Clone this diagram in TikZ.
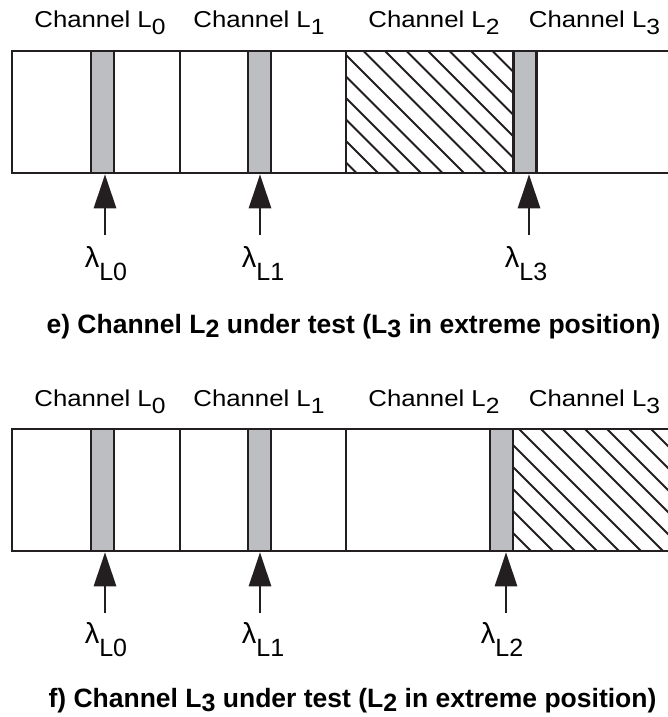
\documentclass[tikz,border=0pt]{standalone}
\usepackage{fontspec}
\setmainfont{Liberation Sans}
\newfontfamily\chanfont[FakeStretch=1.12]{Liberation Sans}
\usetikzlibrary{arrows.meta}

\definecolor{inkline}{RGB}{35,31,32}
\definecolor{barfill}{RGB}{188,190,193}

\newcommand{\chlabel}[1]{{\chanfont\fontsize{23}{26}\selectfont Channel L\raisebox{-7pt}{\fontsize{22}{22}\selectfont #1}}}
\newcommand{\lamlabel}[1]{{\fontsize{29}{30}\selectfont λ\raisebox{-13pt}{\fontsize{25}{25}\selectfont L#1}}}
\newcommand{\capsub}[1]{\raisebox{-4.5pt}{\fontsize{25}{25}\selectfont #1}}

\begin{document}
\begin{tikzpicture}[x=1pt, y=-1pt,
  frame/.style={draw=inkline, line width=2.6pt},
  bar/.style={draw=inkline, fill=barfill, line width=2.6pt, minimum width=23pt,
              minimum height=122pt, inner sep=0pt},
  hatch/.style={draw=inkline, line width=1.8pt},
  arrow/.style={-{Triangle[length=34pt, width=22pt]}, draw=inkline, line width=2.8pt},
  chan/.style={anchor=base, inner sep=0pt},
  lam/.style={anchor=base, inner sep=0pt},
  caption/.style={anchor=base, inner sep=0pt, font=\bfseries\fontsize{26.5}{30}\selectfont}
]
  \useasboundingbox (0,0) rectangle (668,717);

  % e) L2 under test
  \node[chan] (ec0) at (100,28) {\chlabel{0}};
  \node[chan] (ec1) at (259,28) {\chlabel{1}};
  \node[chan] (ec2) at (434,28) {\chlabel{2}};
  \node[chan] (ec3) at (594.5,28) {\chlabel{3}};

  \begin{scope}
    \clip (346,51) rectangle (513,173);
    \foreach \hx in {234.5,256,...,513} \draw[hatch] (\hx,51) -- ++(140,140);
  \end{scope}
  \draw[frame] (672,51) -- (12,51) -- (12,173) -- (672,173);
  \draw[frame] (180,51) -- (180,173);
  \draw[frame] (346,51) -- (346,173);
  \draw[frame] (513,51) -- (513,173);

  \node[bar] (eb0) at (102.5,112) {};
  \node[bar] (eb1) at (259.5,112) {};
  \node[bar] (eb3) at (525,112) {};

  \coordinate (et0) at (105,235);
  \coordinate (et1) at (260,235);
  \coordinate (et3) at (529,235);
  \draw[arrow] (et0) -- (et0 |- eb0.south);
  \draw[arrow] (et1) -- (et1 |- eb1.south);
  \draw[arrow] (et3) -- (et3 |- eb3.south);

  \node[lam] (el0) at (106,267) {\lamlabel{0}};
  \node[lam] (el1) at (263,267) {\lamlabel{1}};
  \node[lam] (el3) at (526,267) {\lamlabel{3}};

  \node[caption] (ecap) at (353.5,333)
    {e) Channel L\capsub{2} under test (L\capsub{3} in extreme position)};

  % f) L3 under test
  \node[chan] (fc0) at (100,406) {\chlabel{0}};
  \node[chan] (fc1) at (259,406) {\chlabel{1}};
  \node[chan] (fc2) at (434,406) {\chlabel{2}};
  \node[chan] (fc3) at (594.5,406) {\chlabel{3}};

  \begin{scope}
    \clip (513,429) rectangle (672,551);
    \foreach \hx in {409,431,...,672} \draw[hatch] (\hx,429) -- ++(140,140);
  \end{scope}
  \draw[frame] (672,429) -- (12,429) -- (12,551) -- (672,551);
  \draw[frame] (180,429) -- (180,551);
  \draw[frame] (346,429) -- (346,551);
  \draw[frame] (513,429) -- (513,551);

  \node[bar] (fb0) at (102.5,490) {};
  \node[bar] (fb1) at (259.5,490) {};
  \node[bar] (fb2) at (501.5,490) {};

  \coordinate (ft0) at (105,613);
  \coordinate (ft1) at (260,613);
  \coordinate (ft2) at (506,613);
  \draw[arrow] (ft0) -- (ft0 |- fb0.south);
  \draw[arrow] (ft1) -- (ft1 |- fb1.south);
  \draw[arrow] (ft2) -- (ft2 |- fb2.south);

  \node[lam] (fl0) at (106,643) {\lamlabel{0}};
  \node[lam] (fl1) at (263,643) {\lamlabel{1}};
  \node[lam] (fl2) at (502,643) {\lamlabel{2}};

  \node[caption] (fcap) at (352.5,707)
    {f) Channel L\capsub{3} under test (L\capsub{2} in extreme position)};
\end{tikzpicture}
\end{document}
